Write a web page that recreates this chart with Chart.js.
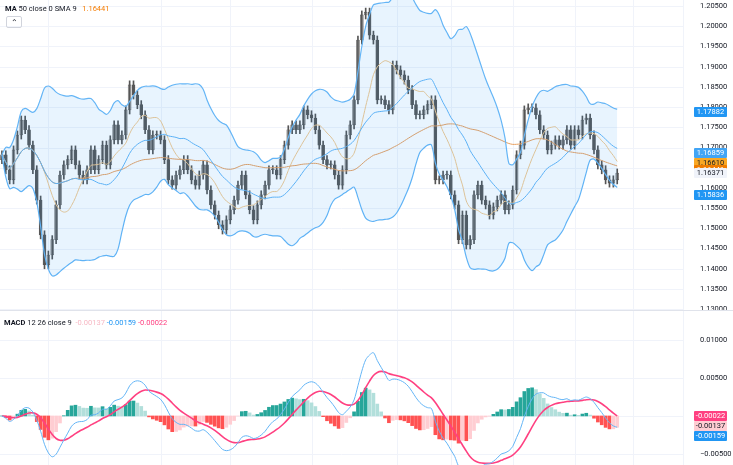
<!DOCTYPE html>
<html><head><meta charset="utf-8">
<script src="https://cdn.jsdelivr.net/npm/chart.js@4.4.0/dist/chart.umd.min.js"></script>
<style>
body{margin:0;background:#fff;font-family:Roboto,"Noto Sans",sans-serif;}
#wrap{position:relative;width:733px;height:465px;overflow:hidden;}
canvas{position:absolute;left:0;}
.lg{position:absolute;font-size:7.5px;color:#131722;white-space:nowrap;}
.tag{position:absolute;left:694px;width:33px;height:10px;line-height:10px;font-size:7.5px;text-align:center;color:#fff;border-radius:1px;}
#sep{position:absolute;left:0;top:310px;width:733px;height:1px;background:#e0e3eb;}
#btn{position:absolute;left:6px;top:16px;width:14px;height:10px;border:1px solid #d1d4dc;border-radius:2px;font-size:8px;text-align:center;line-height:12px;color:#131722;}
</style></head><body>
<div id="wrap">
<canvas id="c1" width="733" height="310" style="top:0;width:733px;height:310px"></canvas>
<canvas id="c2" width="733" height="154" style="top:311px;width:733px;height:154px"></canvas>
<div id="sep"></div>
<div class="lg" style="left:5px;top:4px"><b>MA</b> 50 close 0 SMA 9 &nbsp;&nbsp;<span style="color:#f57c00">1.16441</span></div>
<div id="btn">&#8963;</div>
<div class="lg" style="left:4px;top:318px"><b>MACD</b> 12 26 close 9 &nbsp;<span style="color:#f7b8c4">-0.00137</span> <span style="color:#2196f3">-0.00159</span> <span style="color:#ff4081">-0.00022</span></div>
</div>
<script>
const closes = [
1.1682,1.1645,1.1620,1.1694,1.1731,1.1768,1.1744,1.1706,1.1645,1.1570,
1.1484,1.1410,1.1434,1.1472,1.1558,1.1632,1.1657,1.1670,1.1694,1.1657,
1.1632,1.1620,1.1645,1.1694,1.1645,1.1670,1.1706,1.1657,1.1719,1.1756,
1.1719,1.1731,1.1793,1.1855,1.1830,1.1806,1.1781,1.1744,1.1694,1.1731,
1.1731,1.1719,1.1670,1.1620,1.1607,1.1632,1.1645,1.1670,1.1645,1.1620,
1.1607,1.1632,1.1657,1.1595,1.1558,1.1533,1.1509,1.1496,1.1521,1.1546,
1.1570,1.1607,1.1632,1.1583,1.1546,1.1521,1.1558,1.1583,1.1607,1.1645,
1.1645,1.1632,1.1670,1.1706,1.1744,1.1756,1.1744,1.1756,1.1793,1.1781,
1.1773,1.1744,1.1706,1.1670,1.1657,1.1657,1.1632,
1.1607,1.1645,1.1731,1.1756,1.1818,1.1966,1.2028,1.2035,1.1978,1.1966,
1.1818,1.1818,1.1806,1.1793,1.1904,1.1892,1.1880,1.1867,1.1843,1.1806,
1.1781,1.1781,1.1793,1.1806,1.1818,1.1620,1.1620,1.1632,1.1632,1.1583,
1.1558,1.1472,1.1533,1.1459,1.1472,1.1583,1.1607,1.1570,1.1558,1.1533,
1.1553,1.1570,1.1583,1.1546,1.1558,1.1595,1.1682,1.1706,1.1793,1.1798,
1.1798,1.1781,1.1744,1.1731,1.1694,1.1706,1.1719,1.1706,1.1719,1.1744,
1.1706,1.1744,1.1731,1.1768,1.1773,1.1731,1.1694,1.1657,1.1645,1.1620,
1.1612,1.1620,1.1637];
const firstOpen = 1.1670;
const wick = 0.0010;
const priceTicks = [1.205,1.2,1.195,1.19,1.185,1.18,1.175,1.17,1.165,1.16,1.155,1.15,1.145,1.14,1.135,1.13];
const macdTicks = [0.01,0.005,-0.005];
const priceTags = [
 {v:1.17882,t:'1.17882',bg:'#2196f3',fg:'#fff'},
 {v:1.16859,t:'1.16859',bg:'#42a5f5',fg:'#fff'},
 {v:1.16610,t:'1.16610',bg:'#f9a825',fg:'#131722'},
 {v:1.16441,t:'1.16441',bg:'#ef7c00',fg:'#fff'},
 {v:1.16371,t:'1.16371',bg:'#f0f3fa',fg:'#131722'},
 {v:1.15836,t:'1.15836',bg:'#2196f3',fg:'#fff'}];
const macdTags = [
 {v:-0.00022,t:'-0.00022',bg:'#ff4081',fg:'#fff',dy:0},
 {v:-0.00137,t:'-0.00137',bg:'#ffcdd2',fg:'#131722',dy:10},
 {v:-0.00159,t:'-0.00159',bg:'#2196f3',fg:'#fff',dy:20}];
const vGrid = [12,41,59,80,102,116,132,148,163,176];

const N = closes.length;
const opens = closes.map((c,i)=> i?closes[i-1]:firstOpen);
const sma=(arr,n)=>arr.map((_,i)=>{const s=arr.slice(Math.max(0,i-n+1),i+1);return s.reduce((a,b)=>a+b,0)/s.length;});
const basis=sma(closes,20);
const sd=closes.map((_,i)=>{const s=closes.slice(Math.max(0,i-19),i+1);const m=basis[i];return Math.sqrt(s.reduce((a,b)=>a+(b-m)*(b-m),0)/s.length);});
const upper=basis.map((m,i)=>m+2*sd[i]), lower=basis.map((m,i)=>m-2*sd[i]);
const ma50=sma(closes,50), sma9=sma(closes,9);
const ema=(arr,n)=>{const k=2/(n+1);let e=arr[0];return arr.map(v=>e=v*k+e*(1-k));};
const e12=ema(closes,12), e26=ema(closes,26);
const macd=e12.map((v,i)=>v-e26[i]);
const signal=ema(macd,9);
const hist=macd.map((v,i)=>v-signal[i]);

const pts=a=>a.map((y,i)=>({x:i,y}));
const bodies=closes.map((c,i)=>({x:i,y:[Math.min(opens[i],c),Math.max(opens[i],c)]}));
const wicks=closes.map((c,i)=>({x:i,y:[Math.min(opens[i],c)-wick,Math.max(opens[i],c)+wick]}));
const up=closes.map((c,i)=>c>=opens[i]);

function gridPlugin(ticks){return {id:'g',beforeDatasetsDraw(ch){const {ctx,chartArea:a,scales:{x,y}}=ch;ctx.save();ctx.strokeStyle='#f0f3fa';ctx.lineWidth=1;
 ticks.forEach(t=>{const p=Math.round(y.getPixelForValue(t))+0.5;ctx.beginPath();ctx.moveTo(0,p);ctx.lineTo(a.right,p);ctx.stroke();});
 vGrid.forEach(g=>{const p=Math.round(x.getPixelForValue(g))+0.5;ctx.beginPath();ctx.moveTo(p,0);ctx.lineTo(p,ch.height);ctx.stroke();});ctx.restore();}};}

const xScale={type:'linear',min:-0.5,max:176,display:false,offset:false};
const yAxis=(min,max,ticks,fmt)=>({position:'right',min,max,
 afterBuildTicks:s=>{s.ticks=ticks.map(v=>({value:v}));},
 afterFit:s=>{s.width=50;s.paddingTop=0;s.paddingBottom=0;},
 grid:{display:false,drawTicks:false},border:{display:false},
 ticks:{padding:17,color:'#131722',font:{size:7.5,family:'Roboto'},callback:fmt,crossAlign:'near'}});
const common={responsive:false,animation:false,events:[],layout:{padding:0},plugins:{legend:{display:false},tooltip:{enabled:false}}};

const c1=new Chart(document.getElementById('c1'),{
 data:{datasets:[
  {type:'line',data:pts(upper),borderColor:'#64b5f6',borderWidth:1.2,pointRadius:0,fill:1,backgroundColor:'rgba(33,150,243,0.1)',tension:0.3},
  {type:'line',data:pts(lower),borderColor:'#64b5f6',borderWidth:1.2,pointRadius:0,fill:false,tension:0.3},
  {type:'line',data:pts(basis),borderColor:'#64b5f6',borderWidth:1,pointRadius:0,fill:false,tension:0.3},
  {type:'line',data:pts(ma50),borderColor:'#e8a060',borderWidth:1,pointRadius:0,fill:false,tension:0.3},
  {type:'line',data:pts(sma9),borderColor:'#f2c88e',borderWidth:1,pointRadius:0,fill:false,tension:0.3},
  {type:'bar',data:wicks,backgroundColor:'#555',barThickness:1,grouped:false},
  {type:'bar',data:bodies,backgroundColor:up.map(u=>u?'#c9c9c9':'#5d5d5d'),borderColor:'#555',borderWidth:0.6,borderSkipped:false,barThickness:3,minBarLength:1,grouped:false}
 ]},
 options:{...common,scales:{x:xScale,y:yAxis(1.1298,1.2065,priceTicks,v=>v.toFixed(5))}},
 plugins:[gridPlugin(priceTicks)]
});

const histCol=hist.map((h,i)=>{const p=i?hist[i-1]:0;return h>=0?(h>=p?'#26a69a':'#b2dfdb'):(h<p?'#ff5252':'#ffcdd2');});
const c2=new Chart(document.getElementById('c2'),{
 data:{datasets:[
  {type:'line',data:pts(macd),borderColor:'#64b5f6',borderWidth:1,pointRadius:0,tension:0.3},
  {type:'line',data:pts(signal),borderColor:'#ff4081',borderWidth:1.6,pointRadius:0,tension:0.3},
  {type:'bar',data:pts(hist),backgroundColor:histCol,barThickness:3,grouped:false}
 ]},
 options:{...common,scales:{x:xScale,y:yAxis(-0.00645,0.0138,macdTicks,v=>v.toFixed(5).replace('-','−'))}},
 plugins:[gridPlugin([0.01,0.005,0,-0.005])]
});

const wrap=document.getElementById('wrap');
function tag(t,top){const d=document.createElement('div');d.className='tag';d.textContent=t.t;d.style.background=t.bg;d.style.color=t.fg;d.style.top=top+'px';wrap.appendChild(d);}
priceTags.forEach(t=>tag(t,c1.scales.y.getPixelForValue(t.v)-5));
const z=c2.scales.y.getPixelForValue(0)+311;
macdTags.forEach(t=>tag(t,z-5+t.dy));
</script></body></html>
